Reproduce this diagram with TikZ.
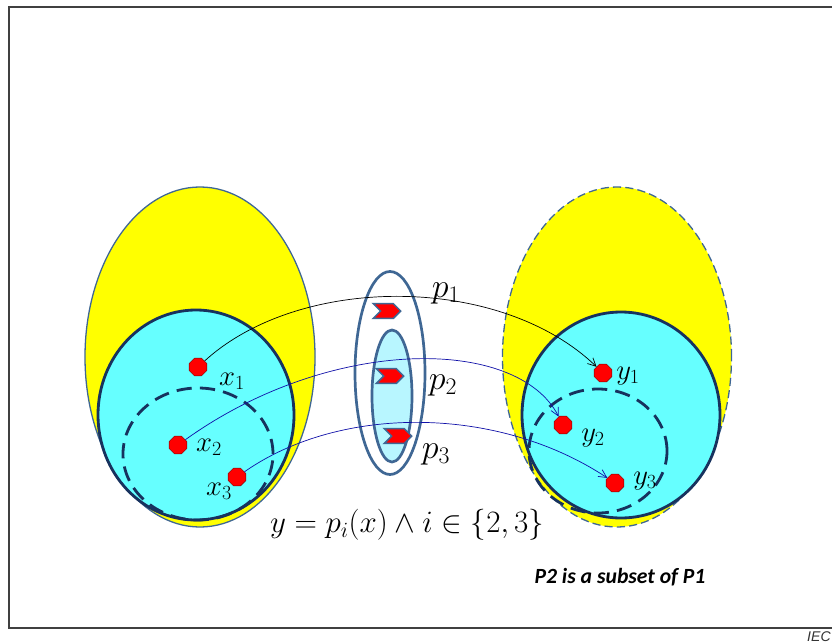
\RequirePackage{fix-cm}
\documentclass[tikz,border=0pt]{standalone}
\usepackage{amsmath,amssymb}
\usepackage{fontspec}
\usepackage{tikz}
\usetikzlibrary{arrows.meta, shapes.geometric, shapes.symbols}
\newfontfamily\calfont{Carlito}
\newfontfamily\iecfont{Liberation Sans}
\definecolor{setyel}{HTML}{FFFF00}
\definecolor{setcyan}{HTML}{66FFFF}
\definecolor{setnavy}{HTML}{17325E}
\definecolor{steel}{HTML}{3F6794}
\definecolor{paleblue}{HTML}{B8F6FF}
\definecolor{maparrow}{HTML}{1010A8}

\begin{document}
\begin{tikzpicture}[
    x=0.03cm, y=-0.03cm,
    >={Straight Barb[length=2.4mm, width=2.4mm]},
    outerset/.style={ellipse, draw=steel, line width=1.1pt, fill=setyel, inner sep=0pt},
    innerset/.style={ellipse, draw=setnavy, line width=2.4pt, fill=setcyan, inner sep=0pt},
    subset/.style={ellipse, draw=setnavy, line width=2.4pt, dash pattern=on 13pt off 7pt, inner sep=0pt},
    mapset/.style={ellipse, draw=steel, line width=2.3pt, inner sep=0pt},
    dot/.style={regular polygon, regular polygon sides=8, minimum size=0.57cm, inner sep=0pt, fill=red, draw=red!50!black, line width=0.4pt},
    chev/.style={signal, signal to=east, signal from=west, minimum width=0.82cm, minimum height=0.44cm, inner sep=0pt, fill=red, draw=steel, line width=1.3pt},
    elab/.style={font=\fontsize{24.5}{26}\selectfont, inner sep=0pt},
    plab/.style={font=\fontsize{29}{31}\selectfont, inner sep=0pt},
    map/.style={->, line width=0.6pt},
  ]
  \useasboundingbox (0,0) rectangle (832,644);
  % ---- frame
  \draw[black!75, line width=1.3pt] (840,7) -- (9,7) -- (9,628) -- (840,628);
  % ---- domain side
  \node[outerset, minimum width=6.9cm, minimum height=10.2cm] (dom) at (200,357) {};
  \node[innerset, minimum width=5.88cm, minimum height=6.3cm] (domin) at (196,415) {};
  \node[subset, minimum width=4.5cm, minimum height=3.96cm] (domsub) at (198,454) {};
  \node[dot] (x1) at (198,367) {};
  \node[dot] (x2) at (178,445) {};
  \node[dot] (x3) at (237,477) {};
  \node[elab] at (232,381) {$x_1$};
  \node[elab] at (209,447) {$x_2$};
  \node[elab] at (219,491) {$x_3$};
  % ---- range side
  \node[outerset, dashed, dash pattern=on 7pt off 3.5pt, minimum width=6.87cm, minimum height=10.2cm] (ran) at (617,357) {};
  \node[innerset, minimum width=5.94cm, minimum height=6.18cm] (ranin) at (621,415) {};
  \node[subset, minimum width=4.14cm, minimum height=3.72cm] (ransub) at (598,451) {};
  \node[dot] (y1) at (603,373) {};
  \node[dot] (y2) at (563,425) {};
  \node[dot] (y3) at (615,483) {};
  \node[elab] at (628,376) {$y_1$};
  \node[elab] at (593,438) {$y_2$};
  \node[elab] at (645,481) {$y_3$};
  % ---- the maps
  \node[mapset, fill=white, minimum width=2.1cm, minimum height=6.09cm] (pall) at (390,373) {};
  \node[mapset, fill=paleblue, minimum width=1.2cm, minimum height=3.96cm] (psub) at (392,396) {};
  \draw[map, black] (x1) .. controls (300,274) and (500,274) .. (y1);
  \draw[map, maparrow] (x2) .. controls (330,336) and (517,336) .. (y2);
  \draw[map, maparrow] (x3) .. controls (340,405) and (497,405) .. (y3);
  \node[chev] (c1) at (387,311) {};
  \node[chev] (c2) at (390,376) {};
  \node[chev] (c3) at (398,436) {};
  \node[plab] at (446,293) {$p_1$};
  \node[plab] at (443,385) {$p_2$};
  \node[plab] at (436,454) {$p_3$};
  % ---- formula and notes
  \node[font=\fontsize{26.5}{28}\selectfont, inner sep=0pt] (rule) at (407,525) {$y = p_i(x) \wedge i \in \{2,3\}$};
  \node[font=\calfont\bfseries\itshape\fontsize{18.5}{20}\selectfont, inner sep=0pt] (note) at (620,577) {P2 is a subset of P1};
  \node[font=\iecfont\itshape\fontsize{12}{14}\selectfont, anchor=west, inner sep=0pt, text=black!80] (iec) at (807,637) {IEC};
\end{tikzpicture}
\end{document}
